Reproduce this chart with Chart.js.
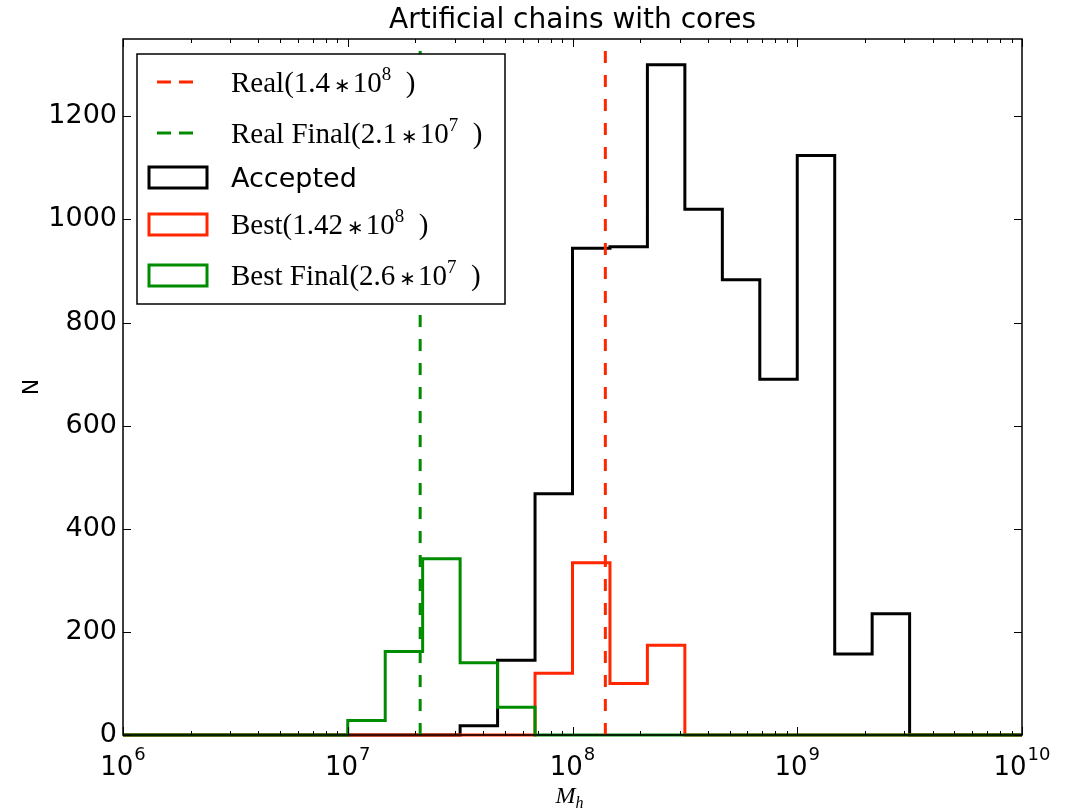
<!DOCTYPE html>
<html>
<head>
<meta charset="utf-8">
<script src="https://cdn.jsdelivr.net/npm/chart.js@4/dist/chart.umd.min.js"></script>
<style>
  html, body { margin: 0; padding: 0; background: #fff; }
  #wrap { width: 1066px; height: 811px; }
</style>
</head>
<body>
<div id="wrap"><canvas id="histChart" width="1066" height="811"></canvas></div>
<script>
// bin edges (M_h), 6 bins per decade where there is data
const binEdges = [1e6, 1e7, 1.468e7, 2.154e7, 3.162e7, 4.642e7, 6.813e7, 1e8, 1.468e8,
  2.154e8, 3.162e8, 4.642e8, 6.813e8, 1e9, 1.468e9, 2.154e9, 3.162e9, 1e10];

const acceptedCounts  = [0, 0, 0, 0, 18, 145, 468, 944, 947, 1300, 1020, 883, 690, 1124, 157, 235, 0];
const bestCounts      = [0, 0, 0, 0, 0, 0, 120, 334, 100, 174, 0, 0, 0, 0, 0, 0, 0];
const bestFinalCounts = [0, 28, 162, 342, 140, 54, 0, 0, 0, 0, 0, 0, 0, 0, 0, 0, 0];

const realMass = 1.4e8;
const realFinalMass = 2.1e7;

const yTicks = [0, 200, 400, 600, 800, 1000, 1200];
const xDecades = [1e6, 1e7, 1e8, 1e9, 1e10];

const RED = '#ff2600';
const GREEN = '#008c00';

const stepPoints = (counts) => {
  const pts = counts.map((c, i) => ({ x: binEdges[i], y: c }));
  const n = counts.length;
  pts.push({ x: binEdges[n], y: counts[n - 1] });
  pts.push({ x: binEdges[n], y: 0 });
  return pts;
};

const histDataset = (label, counts, color, order) => ({
  label: label,
  data: stepPoints(counts),
  borderColor: color,
  borderWidth: 3,
  stepped: 'before',
  pointRadius: 0,
  fill: false,
  clip: false,
  borderJoinStyle: 'miter',
  order: order
});

const vlineDataset = (label, xVal, color, order) => ({
  label: label,
  data: [{ x: xVal, y: 0 }, { x: xVal, y: 1350 }],
  borderColor: color,
  borderWidth: 3,
  borderDash: [12, 12],
  pointRadius: 0,
  fill: false,
  order: order
});

// draws text pieces one after another: {t, font, dy, gap}
const drawPieces = (ctx, x, y, pieces) => {
  pieces.forEach(p => {
    ctx.font = p.font;
    ctx.fillText(p.t, x, y + (p.dy || 0));
    x += ctx.measureText(p.t).width + (p.gap || 0);
  });
};

const piecesWidth = (ctx, pieces) => {
  let w = 0;
  pieces.forEach(p => {
    ctx.font = p.font;
    w += ctx.measureText(p.t).width + (p.gap || 0);
  });
  return w;
};

const SERIF = '29px "Liberation Serif"';
const SERIF_SUP = '19px "Liberation Serif"';
const STAR = '20px "DejaVu Sans"';
const SANS = '27px "DejaVu Sans"';

const mathLabel = (prefix, exp) => [
  { t: prefix, font: SERIF, gap: 4 }, { t: '∗', font: STAR, gap: 2 }, { t: '10', font: SERIF },
  { t: exp, font: SERIF_SUP, dy: -12 }, { t: '  )', font: SERIF }
];

const legendItems = [
  { kind: 'line', color: RED, pieces: mathLabel('Real(1.4', '8') },
  { kind: 'line', color: GREEN, pieces: mathLabel('Real Final(2.1', '7') },
  { kind: 'box', color: '#000', pieces: [{ t: 'Accepted', font: SANS }] },
  { kind: 'box', color: RED, pieces: mathLabel('Best(1.42', '8') },
  { kind: 'box', color: GREEN, pieces: mathLabel('Best Final(2.6', '7') }
];
const legendRowY = [82, 133, 177, 224, 275];

const decorPlugin = {
  id: 'decor',
  afterDraw(chart) {
    const ctx = chart.ctx;
    const area = chart.chartArea;
    const xs = chart.scales.x;
    const ys = chart.scales.y;
    ctx.save();

    // frame
    ctx.strokeStyle = '#000';
    ctx.lineWidth = 1.5;
    ctx.strokeRect(area.left, area.top, area.right - area.left, area.bottom - area.top);

    // x ticks (major + minor), bottom and top, pointing in
    ctx.lineWidth = 1;
    for (let d = 0; d < xDecades.length; d++) {
      const base = xDecades[d];
      for (let m = 1; m <= 9; m++) {
        const v = base * m;
        if (v > 1e10) break;
        const px = Math.round(xs.getPixelForValue(v)) + 0.5;
        const len = m === 1 ? 8 : 4;
        ctx.beginPath();
        ctx.moveTo(px, area.bottom); ctx.lineTo(px, area.bottom - len);
        ctx.moveTo(px, area.top); ctx.lineTo(px, area.top + len);
        ctx.stroke();
      }
    }
    // y ticks left and right
    yTicks.forEach(v => {
      const py = Math.round(ys.getPixelForValue(v)) + 0.5;
      ctx.beginPath();
      ctx.moveTo(area.left, py); ctx.lineTo(area.left + 8, py);
      ctx.moveTo(area.right, py); ctx.lineTo(area.right - 8, py);
      ctx.stroke();
    });

    // x tick labels 10^k
    ctx.fillStyle = '#000';
    ctx.textBaseline = 'alphabetic';
    ctx.textAlign = 'left';
    xDecades.forEach(v => {
      const exp = String(Math.round(Math.log10(v)));
      const pieces = [{ t: '10', font: '26px "DejaVu Sans"', gap: 1 }, { t: exp, font: '18px "DejaVu Sans"', dy: -15 }];
      const w = piecesWidth(ctx, pieces);
      const px = xs.getPixelForValue(v);
      drawPieces(ctx, px - w / 2, 775, pieces);
    });

    // title
    ctx.font = '28px "DejaVu Sans"';
    ctx.textAlign = 'center';
    ctx.fillText('Artificial chains with cores', (area.left + area.right) / 2, 28);

    // x label M_h
    ctx.textAlign = 'left';
    const xl = [{ t: 'M', font: 'italic 24px "Liberation Serif"' }, { t: 'h', font: 'italic 16px "Liberation Serif"', dy: 5 }];
    drawPieces(ctx, (area.left + area.right) / 2 - piecesWidth(ctx, xl) / 2 - 3, 803, xl);

    // y label N
    ctx.save();
    ctx.translate(38, (area.top + area.bottom) / 2);
    ctx.rotate(-Math.PI / 2);
    ctx.font = '22px "DejaVu Sans"';
    ctx.textAlign = 'center';
    ctx.fillText('N', 0, 0);
    ctx.restore();

    // legend
    ctx.fillStyle = '#fff';
    ctx.fillRect(137, 54, 368, 250);
    ctx.strokeStyle = '#000';
    ctx.lineWidth = 1.5;
    ctx.strokeRect(137, 54, 368, 250);
    legendItems.forEach((it, i) => {
      const cy = legendRowY[i];
      ctx.lineWidth = 3;
      ctx.strokeStyle = it.color;
      if (it.kind === 'line') {
        ctx.setLineDash([14, 8]);
        ctx.beginPath();
        ctx.moveTo(157, cy); ctx.lineTo(196, cy);
        ctx.stroke();
        ctx.setLineDash([]);
      } else {
        ctx.lineJoin = 'miter';
        ctx.strokeRect(149, cy - 10, 58, 21);
      }
      ctx.fillStyle = '#000';
      ctx.textAlign = 'left';
      drawPieces(ctx, 231, cy + 10, it.pieces);
    });

    ctx.restore();
  }
};

new Chart(document.getElementById('histChart'), {
  type: 'line',
  data: {
    datasets: [
      histDataset('Accepted', acceptedCounts, '#000', 5),
      histDataset('Best', bestCounts, RED, 4),
      histDataset('Best Final', bestFinalCounts, GREEN, 3),
      vlineDataset('Real', realMass, RED, 2),
      vlineDataset('Real Final', realFinalMass, GREEN, 1)
    ]
  },
  options: {
    responsive: false,
    animation: false,
    devicePixelRatio: 1,
    layout: { padding: { top: 39, right: 44, left: 0, bottom: 0 } },
    plugins: {
      legend: { display: false },
      tooltip: { enabled: false },
      title: { display: false }
    },
    scales: {
      x: {
        type: 'logarithmic',
        min: 1e6,
        max: 1e10,
        grid: { display: false, drawTicks: false },
        border: { display: false },
        ticks: { display: false },
        afterFit: (s) => { s.height = 76; }
      },
      y: {
        min: 0,
        max: 1350,
        grid: { display: false, drawTicks: false },
        border: { display: false },
        ticks: {
          stepSize: 200,
          includeBounds: false,
          padding: 6,
          color: '#000',
          font: { family: 'DejaVu Sans', size: 27 },
          callback: (v) => (yTicks.includes(v) ? String(v) : '')
        },
        afterFit: (s) => { s.width = 123; }
      }
    }
  },
  plugins: [decorPlugin]
});
</script>
</body>
</html>
